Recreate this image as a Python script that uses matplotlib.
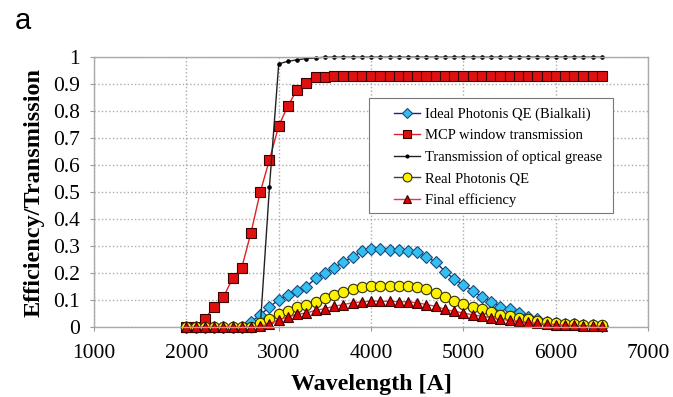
import matplotlib.pyplot as plt
import matplotlib.patches as mpatches
import numpy as np

# wavelength grid [A]
wavelength = [2000, 2100, 2200, 2300, 2400, 2500, 2600, 2700, 2800, 2900,
              3000, 3100, 3200, 3300, 3400, 3500, 3600, 3700, 3800, 3900,
              4000, 4100, 4200, 4300, 4400, 4500, 4600, 4700, 4800, 4900,
              5000, 5100, 5200, 5300, 5400, 5500, 5600, 5700, 5800, 5900,
              6000, 6100, 6200, 6300, 6400, 6500]

ideal_qe = [0, 0, 0, 0, 0, 0, 0, 0.02, 0.044, 0.075,
            0.10, 0.12, 0.135, 0.15, 0.18, 0.20, 0.22, 0.24, 0.26, 0.28,
            0.29, 0.289, 0.286, 0.285, 0.283, 0.278, 0.258, 0.242, 0.205, 0.178,
            0.155, 0.135, 0.112, 0.094, 0.075, 0.066, 0.051, 0.038, 0.028, 0.02,
            0.015, 0.012, 0.01, 0.008, 0.006, 0.005]

mcp_window = [0, 0, 0.03, 0.075, 0.11, 0.18, 0.22, 0.35, 0.50, 0.62,
              0.745, 0.82, 0.88, 0.905, 0.925, 0.928, 0.93, 0.93, 0.93, 0.93,
              0.93, 0.93, 0.93, 0.93, 0.93, 0.93, 0.93, 0.93, 0.93, 0.93,
              0.93, 0.93, 0.93, 0.93, 0.93, 0.93, 0.93, 0.93, 0.93, 0.93,
              0.93, 0.93, 0.93, 0.93, 0.93, 0.93]

grease = [0, 0, 0, 0, 0, 0, 0, 0, 0, 0.52,
          0.975, 0.985, 0.99, 0.995, 0.997, 1, 1, 1, 1, 1,
          1, 1, 1, 1, 1, 1, 1, 1, 1, 1,
          1, 1, 1, 1, 1, 1, 1, 1, 1, 1,
          1, 1, 1, 1, 1, 1]

real_qe = [0, 0, 0, 0, 0, 0, 0, 0, 0.015, 0.03,
           0.048, 0.06, 0.073, 0.081, 0.094, 0.106, 0.118, 0.128, 0.14, 0.147,
           0.153, 0.152, 0.152, 0.152, 0.151, 0.15, 0.14, 0.125, 0.112, 0.098,
           0.085, 0.073, 0.065, 0.055, 0.046, 0.04, 0.034, 0.028, 0.022, 0.018,
           0.014, 0.012, 0.01, 0.008, 0.007, 0.006]

final_eff = [0, 0, 0, 0, 0, 0, 0, 0, 0.003, 0.012,
             0.027, 0.037, 0.047, 0.052, 0.062, 0.068, 0.077, 0.083, 0.09, 0.093,
             0.096, 0.096, 0.095, 0.094, 0.093, 0.09, 0.083, 0.077, 0.065, 0.058,
             0.052, 0.045, 0.04, 0.034, 0.028, 0.025, 0.021, 0.017, 0.014, 0.011,
             0.009, 0.007, 0.006, 0.005, 0.004, 0.003]

plt.rcParams['font.family'] = ['Liberation Serif', 'DejaVu Serif']

fig = plt.figure(figsize=(6.73, 3.97), dpi=100)
ax = fig.add_axes([0.1397, 0.1763, 0.8233, 0.6797])

ax.plot(wavelength, ideal_qe, color='#1a237e', lw=1, marker='D', ms=6.5,
        mfc='#33c0f0', mec='#1a4a80', mew=0.8, clip_on=False,
        label='Ideal Photonis QE (Bialkali)')
ax.plot(wavelength, mcp_window, color='#e02020', lw=1, marker='s', ms=7,
        mfc='#e01010', mec='#3a0000', mew=0.8, clip_on=False,
        label='MCP window transmission')
ax.plot(wavelength, grease, color='#222222', lw=1, marker='o', ms=2.3,
        mfc='black', mec='black', clip_on=False,
        label='Transmission of optical grease')
ax.plot(wavelength, real_qe, color='#444422', lw=1, marker='o', ms=7.5,
        mfc='#fff200', mec='#333300', mew=0.8, clip_on=False,
        label='Real Photonis QE')
ax.plot(wavelength, final_eff, color='#ee3344', lw=1, marker='^', ms=7,
        mfc='#dd0000', mec='#3a0000', mew=0.8, clip_on=False,
        label='Final efficiency')

ax.set_xlim(1000, 7000)
ax.set_ylim(0, 1)
ax.set_xticks([1000, 2000, 3000, 4000, 5000, 6000, 7000])
ax.set_yticks(np.arange(0, 1.01, 0.1))
ax.set_yticklabels(['0', '0.1', '0.2', '0.3', '0.4', '0.5', '0.6', '0.7',
                    '0.8', '0.9', '1'])
ax.tick_params(labelsize=15.5, length=3, color='#999999')
ax.tick_params(axis='x', pad=9)
ax.tick_params(axis='y', pad=7)
ax.grid(True, color='#aaaaaa', ls=':', lw=1)
for s in ax.spines.values():
    s.set_color('#aaaaaa')
    s.set_linewidth(1)

ax.set_xlabel('Wavelength [A]', fontsize=17.3, fontweight='bold', labelpad=8)
ax.set_ylabel('Efficiency/Transmission', fontsize=17.5, fontweight='bold',
              labelpad=6)

# legend box is wider on the left than matplotlib's symmetric padding,
# so draw the frame separately
box = mpatches.Rectangle((0.4964, 0.4222), 0.4404, 0.4258,
                         transform=ax.transAxes, facecolor='white',
                         edgecolor='#777777', lw=0.8, zorder=4.9)
ax.add_patch(box)
leg = ax.legend(loc='center left', bbox_to_anchor=(0.5415, 0.629),
                fontsize=10.5, frameon=False, handlelength=1.8,
                handletextpad=0.3, borderpad=0, borderaxespad=0,
                labelspacing=0.55, markerscale=0.85)
leg.set_zorder(5)

fig.text(0.022, 0.927, 'a', fontsize=21, family='Liberation Sans',
         va='baseline')

fig.savefig('out.png', dpi=100)
